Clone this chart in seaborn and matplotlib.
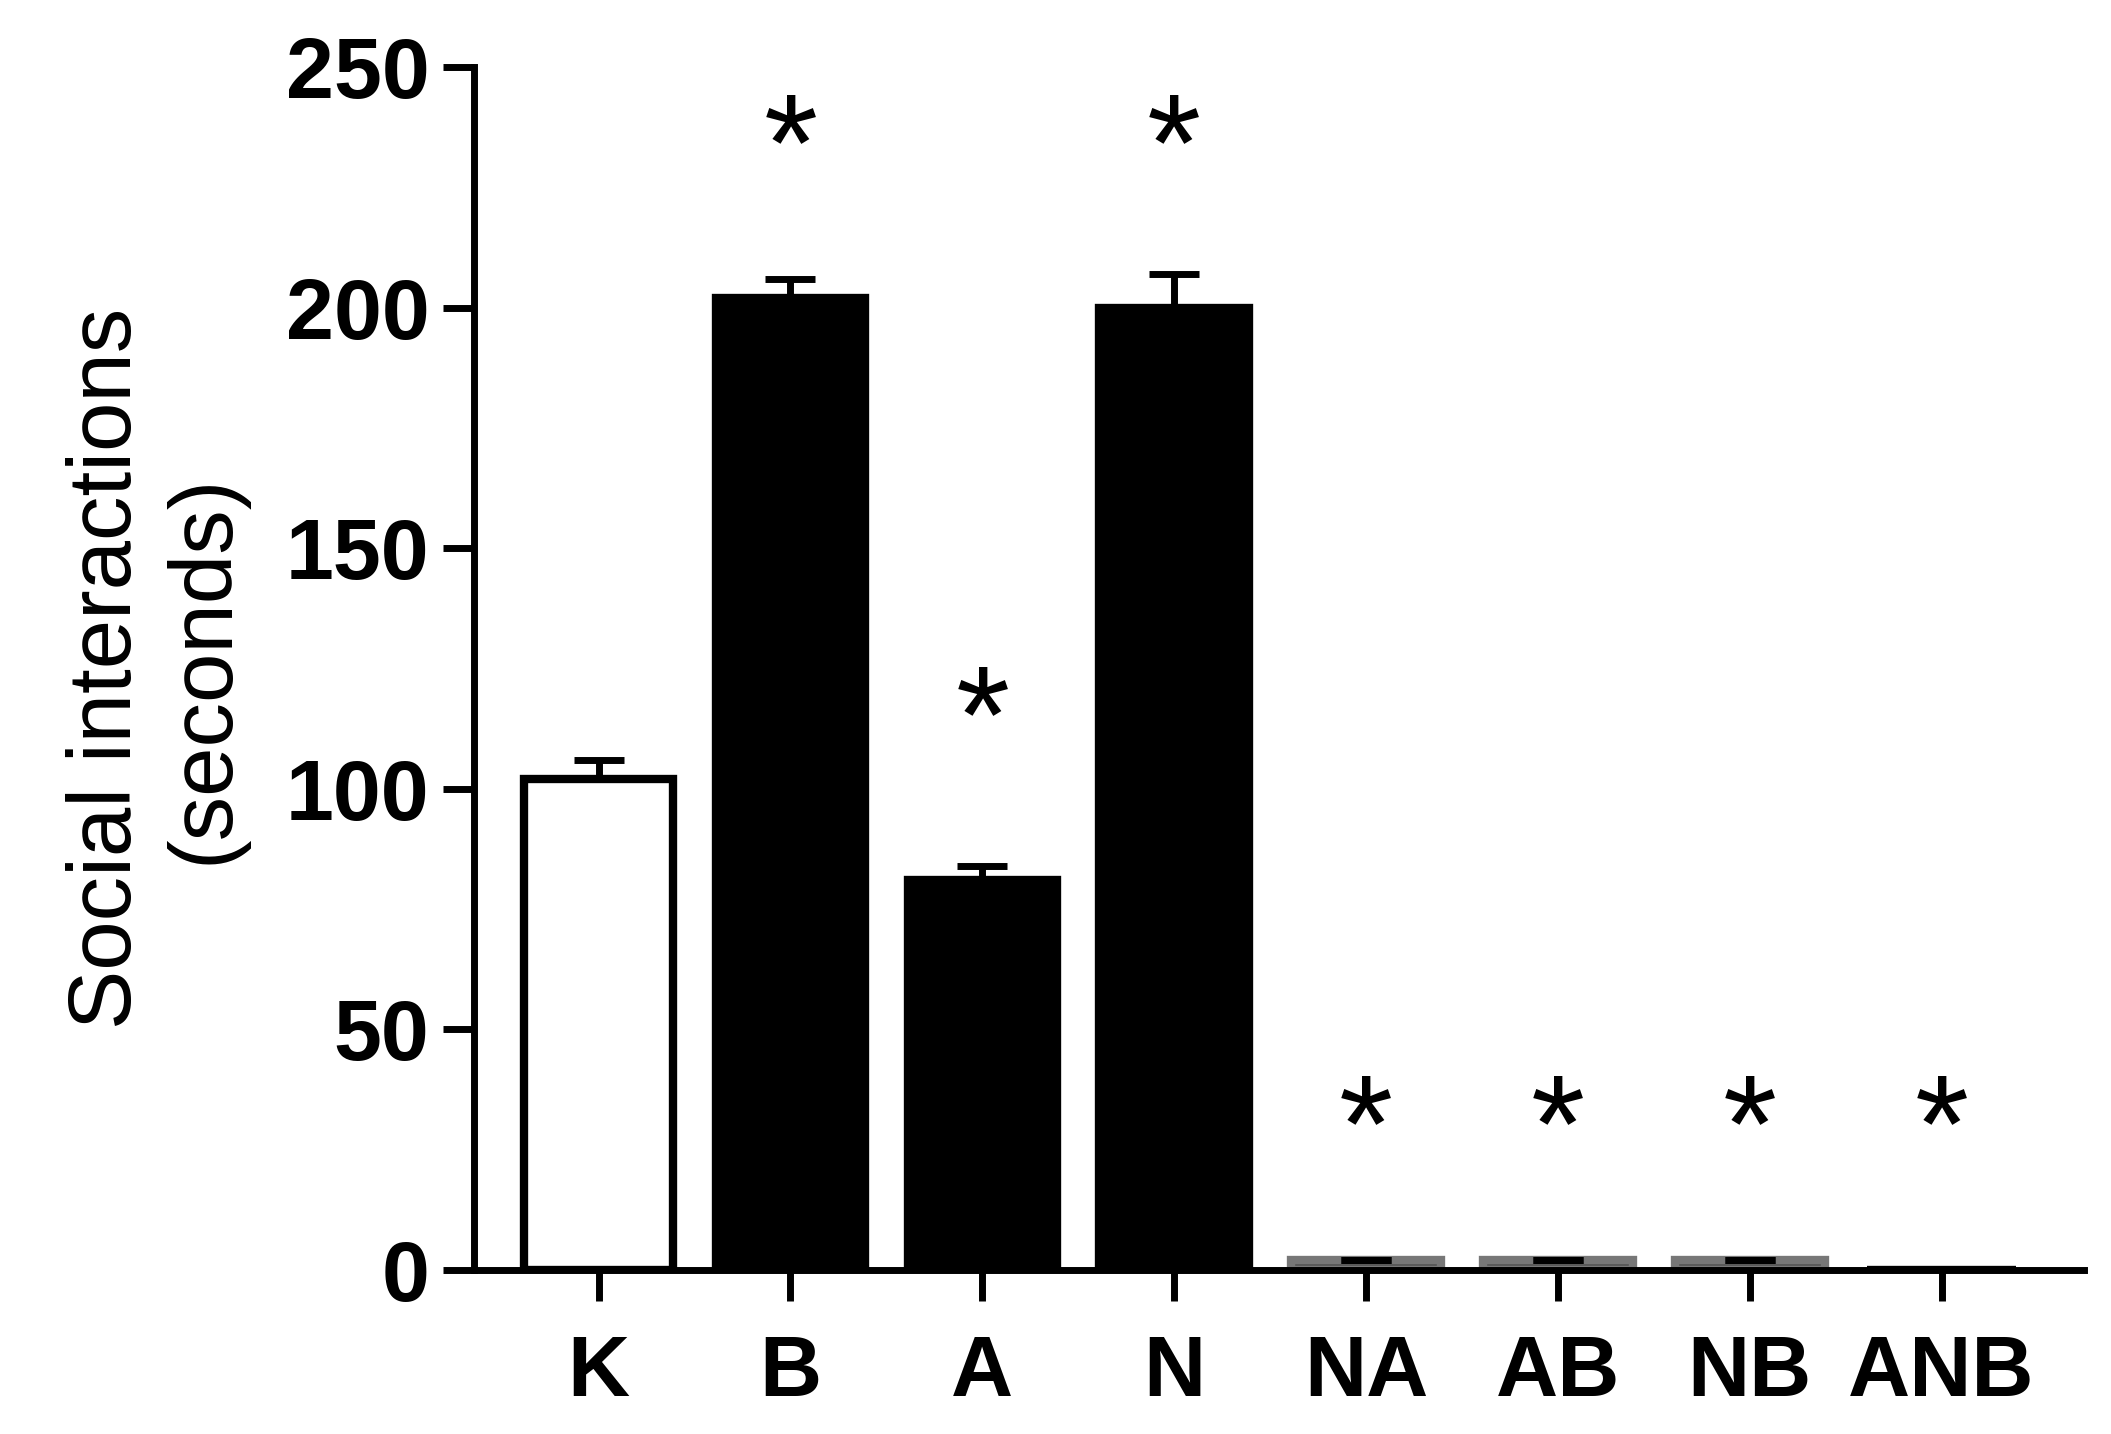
import matplotlib
matplotlib.use("Agg")
import matplotlib.pyplot as plt
import seaborn as sns
import numpy as np
import pandas as pd

groups = ["K", "B", "A", "N", "NA", "AB", "NB", "ANB"]
values = [102, 202, 81, 200, 2, 2, 2, 0]
errors = [4, 4, 3, 7, 0, 0, 0, 0]
star_y = [None, 232, 113, 232, 28, 28, 28, 28]
face = ["white", "black", "black", "black", "#555555", "#555555", "#555555", "black"]

sns.set_theme(style="ticks")
plt.rcParams['font.family'] = ['Liberation Sans', 'DejaVu Sans']
plt.rcParams['text.color'] = 'black'
plt.rcParams['axes.labelcolor'] = 'black'
plt.rcParams['xtick.color'] = 'black'
plt.rcParams['ytick.color'] = 'black'
plt.rcParams['axes.edgecolor'] = 'black'

fig = plt.figure(figsize=(21.11, 14.34), dpi=100)
ax = fig.add_axes([0.2245, 0.1145, 0.7625, 0.8385])
df = pd.DataFrame({"g": groups, "v": values})
sns.barplot(data=df, x="g", y="v", ax=ax, width=0.78, errorbar=None)
for p, fc in zip(ax.patches, face):
    p.set_facecolor(fc)
    p.set_edgecolor("black" if fc != "#555555" else "#777777")
    p.set_linewidth(6)
x = np.arange(len(groups))
ax.errorbar(x, values, yerr=[np.zeros(len(errors)), errors], fmt="none",
            ecolor="black", elinewidth=5, capsize=18, capthick=5)
for xi, sy in zip(x, star_y):
    if sy is not None:
        ax.text(xi, sy, "*", ha="center", va="center", fontsize=100)
ax.set_xlim(-0.65, 7.74)
ax.set_ylim(0, 250)
ax.set_yticks([0, 50, 100, 150, 200, 250])
sns.despine(ax=ax)
for s in ["left", "bottom"]:
    ax.spines[s].set_linewidth(5)
ax.tick_params(axis="both", width=5, length=22, labelsize=62, pad=10)
ax.tick_params(axis="x", pad=24)
for t in ax.get_xticklabels() + ax.get_yticklabels():
    t.set_fontweight("bold")
ax.set_xlabel("")
ax.set_ylabel("Social interactions\n(seconds)", fontsize=64, labelpad=28)
fig.savefig("out.png", dpi=100)
